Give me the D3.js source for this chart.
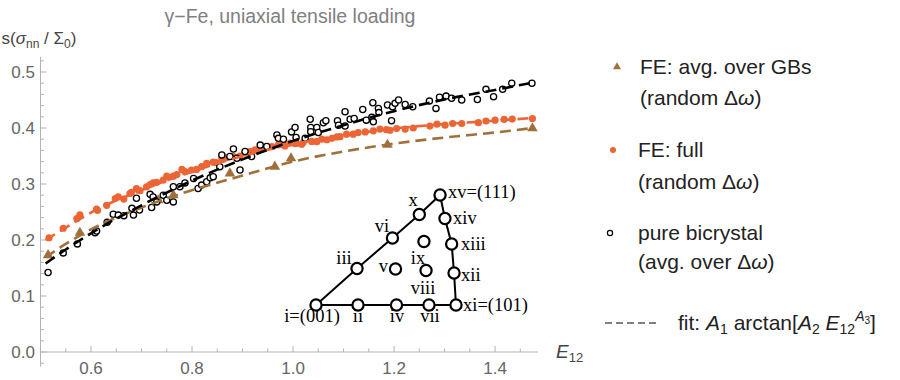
<!DOCTYPE html>
<html>
<head>
<meta charset="utf-8">
<script src="https://cdn.jsdelivr.net/npm/d3@7"></script>
<style>
  body { margin: 0; background: #fff; }
  svg { display: block; font-family: "Liberation Sans", Arial, sans-serif; }
</style>
</head>
<body>
<svg id="chart" width="900" height="380"></svg>
<script>
// FE: avg. over GBs (random Δω)  [E12, s]
const feAvg = [
  [0.515, 0.173], [0.578, 0.213], [0.733, 0.271], [0.763, 0.280], [0.875, 0.319],
  [0.964, 0.331], [0.996, 0.346], [1.187, 0.370], [1.474, 0.3995]
];

// FE: full (random Δω)
const feFull = [
  [0.517, 0.204], [0.545, 0.221], [0.572, 0.238], [0.578, 0.245], [0.611, 0.255],
  [0.613, 0.253], [0.631, 0.262], [0.648, 0.274], [0.654, 0.277], [0.665, 0.273],
  [0.677, 0.283], [0.680, 0.285], [0.690, 0.292], [0.697, 0.288], [0.710, 0.295],
  [0.717, 0.299], [0.723, 0.302], [0.730, 0.303], [0.743, 0.307], [0.750, 0.314],
  [0.763, 0.314], [0.770, 0.317], [0.780, 0.326], [0.786, 0.322], [0.799, 0.325],
  [0.809, 0.326], [0.819, 0.331], [0.829, 0.337], [0.842, 0.339], [0.848, 0.338],
  [0.859, 0.346], [0.869, 0.347], [0.882, 0.349], [0.895, 0.350], [0.905, 0.355],
  [0.915, 0.358], [0.925, 0.361], [0.935, 0.362], [0.948, 0.367], [0.958, 0.367],
  [0.971, 0.370], [0.981, 0.370], [0.984, 0.368], [0.994, 0.373], [1.004, 0.372],
  [1.007, 0.3725], [1.017, 0.371], [1.020, 0.374], [1.037, 0.376], [1.047, 0.3755],
  [1.057, 0.380], [1.067, 0.379], [1.077, 0.3815], [1.087, 0.384], [1.093, 0.3845],
  [1.106, 0.389], [1.119, 0.389], [1.129, 0.392], [1.143, 0.393], [1.159, 0.395],
  [1.172, 0.398], [1.185, 0.397], [1.192, 0.396], [1.205, 0.399], [1.222, 0.398],
  [1.238, 0.400], [1.271, 0.4035], [1.285, 0.407], [1.301, 0.405], [1.316, 0.408],
  [1.334, 0.408], [1.367, 0.4095], [1.382, 0.4125], [1.400, 0.414], [1.418, 0.4155],
  [1.434, 0.416], [1.474, 0.417]
];

// pure bicrystal (avg. over Δω)
const bicrystal = [
  [0.515, 0.142], [0.545, 0.177], [0.573, 0.193], [0.608, 0.213], [0.611, 0.216],
  [0.632, 0.2315], [0.644, 0.246], [0.654, 0.2445], [0.665, 0.2435], [0.681, 0.2565],
  [0.684, 0.2445], [0.690, 0.2745], [0.696, 0.2535], [0.717, 0.2815], [0.720, 0.258],
  [0.723, 0.277], [0.730, 0.268], [0.743, 0.280], [0.750, 0.271], [0.763, 0.268],
  [0.763, 0.295], [0.776, 0.295], [0.786, 0.302], [0.803, 0.310], [0.812, 0.292],
  [0.819, 0.298], [0.829, 0.304], [0.836, 0.311], [0.842, 0.313], [0.855, 0.331],
  [0.859, 0.352], [0.875, 0.349], [0.882, 0.3625], [0.889, 0.346], [0.895, 0.325],
  [0.905, 0.358], [0.918, 0.349], [0.935, 0.3695], [0.948, 0.367], [0.968, 0.3875],
  [0.971, 0.3815], [0.981, 0.380], [0.997, 0.393], [1.004, 0.401], [1.006, 0.383],
  [1.024, 0.3815], [1.034, 0.4155], [1.035, 0.401], [1.035, 0.3935], [1.047, 0.401],
  [1.050, 0.392], [1.060, 0.4095], [1.065, 0.413], [1.088, 0.413], [1.090, 0.405],
  [1.103, 0.429], [1.103, 0.4035], [1.113, 0.4155], [1.121, 0.417], [1.138, 0.433],
  [1.145, 0.414], [1.156, 0.419], [1.158, 0.445], [1.159, 0.411], [1.169, 0.435],
  [1.170, 0.4275], [1.187, 0.441], [1.195, 0.413], [1.197, 0.438], [1.202, 0.444],
  [1.209, 0.450], [1.222, 0.442], [1.237, 0.438], [1.270, 0.448], [1.283, 0.435],
  [1.290, 0.455], [1.303, 0.457], [1.314, 0.453], [1.334, 0.450], [1.365, 0.451],
  [1.382, 0.469], [1.397, 0.456], [1.415, 0.469], [1.433, 0.480], [1.473, 0.480]
];

// fit curves at these E12 values
const fitE12       = [0.51, 0.55, 0.6, 0.7, 0.8, 0.9, 1.0, 1.1, 1.2, 1.3, 1.4, 1.475];
const fitFeAvg     = [0.169, 0.193, 0.219, 0.258, 0.289, 0.315, 0.340, 0.358, 0.372, 0.383, 0.392, 0.400];
const fitFeFull    = [0.200, 0.222, 0.249, 0.289, 0.322, 0.350, 0.371, 0.387, 0.399, 0.407, 0.413, 0.418];
const fitBicrystal = [0.158, 0.183, 0.212, 0.262, 0.306, 0.344, 0.377, 0.405, 0.430, 0.451, 0.468, 0.481];

const xTicks = [0.6, 0.8, 1.0, 1.2, 1.4];
const yTicks = [0.0, 0.1, 0.2, 0.3, 0.4, 0.5];

// stereographic triangle inset: node name, position in triangle units
const insetNodes = [
  ["i", 0, 0], ["ii", 0.30, 0], ["iv", 0.575, 0], ["vii", 0.807, 0], ["xi", 1, 0],
  ["xii", 0.986, 0.291], ["xiii", 0.969, 0.555], ["xiv", 0.921, 0.786], ["xv", 0.886, 1],
  ["x", 0.738, 0.823], ["vi", 0.546, 0.609], ["iii", 0.293, 0.332],
  ["v", 0.568, 0.327], ["ix", 0.771, 0.577], ["viii", 0.786, 0.314]
];
const insetEdge = ["i", "ii", "iv", "vii", "xi", "xii", "xiii", "xiv", "xv", "x", "vi", "iii", "i"];

const orange = "#ec6535", brown = "#a0703a";

const svg = d3.select("#chart");

const x = d3.scaleLinear().domain([0.5, 1.485]).range([40.5, 538]);
const y = d3.scaleLinear().domain([0, 0.5]).range([352, 72]);

// axes (Mathematica style, ticks pointing inward)
const axisColor = "#b3b3b3", labelColor = "#666";
const ax = svg.append("g");
ax.append("line").attr("x1", x(0.5)).attr("x2", x(1.485)).attr("y1", y(0)).attr("y2", y(0))
  .attr("stroke", axisColor);
ax.append("line").attr("x1", x(0.5)).attr("x2", x(0.5)).attr("y1", y(-0.026)).attr("y2", y(0.527))
  .attr("stroke", axisColor);

const xMinor = d3.range(0.55, 1.46, 0.05);
ax.selectAll(".xt").data(xMinor).enter().append("line")
  .attr("x1", d => x(d)).attr("x2", d => x(d))
  .attr("y1", y(0))
  .attr("y2", d => y(0) - (xTicks.some(t => Math.abs(t - d) < 1e-6) ? 6 : 3.5))
  .attr("stroke", axisColor);
ax.selectAll(".xl").data(xTicks).enter().append("text")
  .attr("x", d => x(d)).attr("y", 374)
  .attr("text-anchor", "middle").attr("font-size", 17).attr("fill", labelColor)
  .text(d => d.toFixed(1));

const yMinor = d3.range(-0.02, 0.521, 0.02);
ax.selectAll(".yt").data(yMinor).enter().append("line")
  .attr("x1", x(0.5))
  .attr("x2", d => x(0.5) + (yTicks.some(t => Math.abs(t - d) < 1e-6) ? 6 : 3.5))
  .attr("y1", d => y(d)).attr("y2", d => y(d))
  .attr("stroke", axisColor);
ax.selectAll(".yl").data(yTicks).enter().append("text")
  .attr("x", 35).attr("y", d => y(d) + 6)
  .attr("text-anchor", "end").attr("font-size", 17).attr("fill", labelColor)
  .text(d => d.toFixed(1));

// axis labels and title
const yLab = svg.append("text").attr("x", 39).attr("y", 44).attr("text-anchor", "middle")
  .attr("font-size", 17).attr("fill", "#444");
yLab.append("tspan").text("s(");
yLab.append("tspan").attr("font-style", "italic").text("σ");
yLab.append("tspan").attr("font-size", 12).attr("dy", 4).text("nn");
yLab.append("tspan").attr("dy", -4).text(" / Σ");
yLab.append("tspan").attr("font-size", 12).attr("dy", 4).text("0");
yLab.append("tspan").attr("dy", -4).text(")");

const xLab = svg.append("text").attr("x", 556).attr("y", 358)
  .attr("font-size", 19).attr("fill", "#444");
xLab.append("tspan").attr("font-style", "italic").text("E");
xLab.append("tspan").attr("font-size", 13).attr("dy", 4).text("12");

svg.append("text").attr("x", 290).attr("y", 23).attr("text-anchor", "middle")
  .attr("font-size", 19.5).attr("fill", "#808080")
  .text("γ−Fe, uniaxial tensile loading");

// inset triangle
const ix = d3.scaleLinear().domain([0, 1]).range([316, 456]);
const iy = d3.scaleLinear().domain([0, 1]).range([305, 195]);
const nodeAt = Object.fromEntries(insetNodes.map(d => [d[0], d]));
const inset = svg.append("g");
inset.append("path")
  .attr("d", d3.line().x(n => ix(nodeAt[n][1])).y(n => iy(nodeAt[n][2]))(insetEdge))
  .attr("fill", "none").attr("stroke", "#000").attr("stroke-width", 2);
inset.selectAll("circle").data(insetNodes).enter().append("circle")
  .attr("cx", d => ix(d[1])).attr("cy", d => iy(d[2])).attr("r", 5.6)
  .attr("fill", "#fff").attr("stroke", "#000").attr("stroke-width", 2.2);

const insetLabels = [
  ["i=(001)", 312, 322, "middle"], ["ii", 358, 322, "middle"], ["iv", 397, 322, "middle"],
  ["vii", 430, 322, "middle"], ["xi=(101)", 463, 311, "start"], ["xii", 461, 281, "start"],
  ["xiii", 461, 250, "start"], ["xiv", 453, 224, "start"], ["xv=(111)", 448, 198, "start"],
  ["x", 413, 206, "middle"], ["vi", 382, 232, "middle"], ["iii", 344, 264, "middle"],
  ["v", 388, 272, "end"], ["ix", 418, 264, "middle"], ["viii", 423, 294, "middle"]
];
inset.selectAll("text").data(insetLabels).enter().append("text")
  .attr("x", d => d[1]).attr("y", d => d[2]).attr("text-anchor", d => d[3])
  .attr("font-family", "'Liberation Serif', 'Times New Roman', serif")
  .attr("font-size", 18.5).attr("fill", "#000")
  .text(d => d[0]);

// data points
const plot = svg.append("g");
plot.selectAll(".full").data(feFull).enter().append("circle")
  .attr("cx", d => x(d[0])).attr("cy", d => y(d[1])).attr("r", 3.6)
  .attr("fill", orange);
plot.selectAll(".avg").data(feAvg).enter().append("path")
  .attr("d", d3.symbol(d3.symbolTriangle, 48))
  .attr("transform", d => `translate(${x(d[0])},${y(d[1])})`)
  .attr("fill", brown);
plot.selectAll(".bic").data(bicrystal).enter().append("circle")
  .attr("cx", d => x(d[0])).attr("cy", d => y(d[1])).attr("r", 3.1)
  .attr("fill", "#fff").attr("stroke", "#000").attr("stroke-width", 1.3);

// fit curves
const fitLine = d3.line().x(d => x(d[0])).y(d => y(d[1])).curve(d3.curveMonotoneX);
[[fitFeAvg, brown], [fitFeFull, orange], [fitBicrystal, "#000"]].forEach(([vals, col]) => {
  plot.append("path")
    .attr("d", fitLine(fitE12.map((e, i) => [e, vals[i]])))
    .attr("fill", "none").attr("stroke", col).attr("stroke-width", 2.6)
    .attr("stroke-dasharray", "11,6");
});

// legend
const leg = svg.append("g").attr("font-size", 21).attr("fill", "#222");
leg.append("path").attr("d", d3.symbol(d3.symbolTriangle, 28))
  .attr("transform", "translate(617,67)").attr("fill", brown);
leg.append("text").attr("x", 640).attr("y", 74).text("FE: avg. over GBs");
const r1 = leg.append("text").attr("x", 640).attr("y", 105).text("(random Δ");
r1.append("tspan").attr("font-style", "italic").text("ω");
r1.append("tspan").text(")");

leg.append("circle").attr("cx", 613).attr("cy", 150).attr("r", 3).attr("fill", orange);
leg.append("text").attr("x", 638).attr("y", 157).text("FE: full");
const r2 = leg.append("text").attr("x", 638).attr("y", 189).text("(random Δ");
r2.append("tspan").attr("font-style", "italic").text("ω");
r2.append("tspan").text(")");

leg.append("circle").attr("cx", 610).attr("cy", 233).attr("r", 2.6)
  .attr("fill", "#fff").attr("stroke", "#000").attr("stroke-width", 1.2);
leg.append("text").attr("x", 638).attr("y", 240).text("pure bicrystal");
const r3 = leg.append("text").attr("x", 638).attr("y", 269).text("(avg. over Δ");
r3.append("tspan").attr("font-style", "italic").text("ω");
r3.append("tspan").text(")");

leg.append("line").attr("x1", 605).attr("x2", 657).attr("y1", 323).attr("y2", 323)
  .attr("stroke", "#808080").attr("stroke-width", 2).attr("stroke-dasharray", "7,4");
const f = leg.append("text").attr("x", 678).attr("y", 330);
f.append("tspan").text("fit: ");
f.append("tspan").attr("font-style", "italic").text("A");
f.append("tspan").attr("font-size", 14).attr("dy", 4).text("1");
f.append("tspan").attr("dy", -4).text(" arctan[");
f.append("tspan").attr("font-style", "italic").text("A");
f.append("tspan").attr("font-size", 14).attr("dy", 4).text("2");
f.append("tspan").attr("dy", -4).text(" ");
f.append("tspan").attr("font-style", "italic").text("E");
f.append("tspan").attr("font-size", 14).attr("dy", 4).text("12");
f.append("tspan").attr("font-size", 14).attr("font-style", "italic").attr("dy", -13).text("A");
f.append("tspan").attr("font-size", 10).attr("dy", 3).text("3");
f.append("tspan").attr("dy", 6).text("]");
</script>
</body>
</html>
